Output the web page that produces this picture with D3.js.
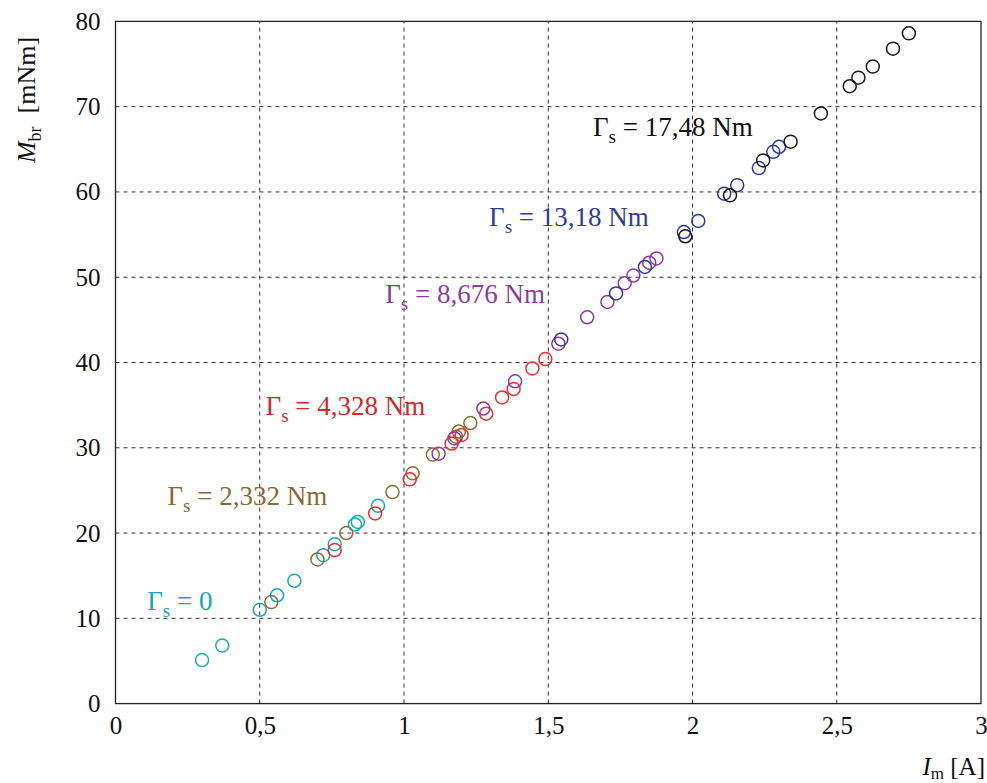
<!DOCTYPE html>
<html>
<head>
<meta charset="utf-8">
<script src="https://cdn.jsdelivr.net/npm/d3@7"></script>
<style>
  body { margin: 0; background: #fff; }
  text { font-family: "Liberation Serif", "Times New Roman", serif; }
</style>
</head>
<body>
<div id="chart"></div>
<script>
// measured points, one pair of arrays per torque setting
var x_0 = [0.30, 0.37, 0.50, 0.56, 0.62, 0.72, 0.76, 0.83, 0.84, 0.91]
var y_0 = [5.1, 6.8, 11.0, 12.7, 14.4, 17.4, 18.7, 21.0, 21.3, 23.2]

var x_2332 = [0.54, 0.70, 0.80, 0.96, 1.03, 1.10, 1.18, 1.19, 1.23]
var y_2332 = [11.9, 16.9, 20.0, 24.8, 27.0, 29.2, 31.3, 31.9, 32.9]

var x_4328 = [0.76, 0.90, 1.02, 1.165, 1.20, 1.285, 1.34, 1.38, 1.445, 1.49]
var y_4328 = [18.0, 22.3, 26.3, 30.5, 31.5, 34.0, 35.9, 36.9, 39.3, 40.4]

var x_8676 = [1.12, 1.175, 1.275, 1.385, 1.535, 1.635, 1.705, 1.765, 1.795, 1.85, 1.875]
var y_8676 = [29.3, 31.1, 34.6, 37.8, 42.2, 45.3, 47.1, 49.3, 50.2, 51.7, 52.2]

var x_1318 = [1.545, 1.735, 1.835, 1.97, 2.02, 2.11, 2.155, 2.23, 2.28, 2.30]
var y_1318 = [42.7, 48.1, 51.2, 55.3, 56.6, 59.8, 60.8, 62.8, 64.7, 65.3]

var x_1748 = [1.975, 2.13, 2.245, 2.34, 2.445, 2.545, 2.575, 2.625, 2.695, 2.75]
var y_1748 = [54.8, 59.6, 63.7, 65.9, 69.2, 72.4, 73.4, 74.7, 76.8, 78.6]

var series_names = ["0", "2,332 Nm", "4,328 Nm", "8,676 Nm", "13,18 Nm", "17,48 Nm"]
var series_x = [x_0, x_2332, x_4328, x_8676, x_1318, x_1748]
var series_y = [y_0, y_2332, y_4328, y_8676, y_1318, y_1748]
var marker_colors = ["#18a8b8", "#8c6c34", "#ee2b2b", "#8e3aa0", "#2d3a9c", "#1a1a1a"]
var label_colors = ["#1aa3b3", "#8a6a33", "#cc2b2b", "#8c3c9c", "#2f3d96", "#111111"]
// where each label sits, in data units
var label_pos = [[0.11, 11.0], [0.18, 23.3], [0.52, 33.8], [0.935, 47.0], [1.295, 56.0], [1.655, 66.6]]

var x_ticks = [0, 0.5, 1, 1.5, 2, 2.5, 3]
var y_ticks = [0, 10, 20, 30, 40, 50, 60, 70, 80]

var width = 987, height = 783
var margin = {top: 21.4, right: 6, bottom: 79.4, left: 115.5}

var svg = d3.select("#chart").append("svg")
    .attr("width", width)
    .attr("height", height)

var xScale = d3.scaleLinear().domain([0, 3]).range([margin.left, width - margin.right])
var yScale = d3.scaleLinear().domain([0, 80]).range([height - margin.bottom, margin.top])

var fmt = function(d) { return String(d).replace(".", ","); }

// grid
svg.append("g").selectAll("line")
  .data(x_ticks.slice(1, -1))
  .enter().append("line")
    .attr("x1", function(d) { return xScale(d); })
    .attr("x2", function(d) { return xScale(d); })
    .attr("y1", yScale(0))
    .attr("y2", yScale(80))
    .attr("stroke", "#333")
    .attr("stroke-width", 1)
    .attr("stroke-dasharray", "4,4")

svg.append("g").selectAll("line")
  .data(y_ticks.slice(1, -1))
  .enter().append("line")
    .attr("x1", xScale(0))
    .attr("x2", xScale(3))
    .attr("y1", function(d) { return yScale(d); })
    .attr("y2", function(d) { return yScale(d); })
    .attr("stroke", "#333")
    .attr("stroke-width", 1)
    .attr("stroke-dasharray", "4,4")

// axes
var xAxis = svg.append("g")
    .attr("transform", "translate(0," + yScale(0) + ")")
    .call(d3.axisBottom(xScale).tickValues(x_ticks).tickSize(0).tickPadding(13).tickFormat(fmt))
var yAxis = svg.append("g")
    .attr("transform", "translate(" + xScale(0) + ",0)")
    .call(d3.axisLeft(yScale).tickValues(y_ticks).tickSize(0).tickPadding(15))

xAxis.select(".domain").remove()
yAxis.select(".domain").remove()
svg.selectAll(".tick text")
    .attr("font-family", "Liberation Serif")
    .attr("font-size", 25)
    .attr("fill", "#111")

// frame
svg.append("rect")
    .attr("x", xScale(0))
    .attr("y", yScale(80))
    .attr("width", xScale(3) - xScale(0))
    .attr("height", yScale(0) - yScale(80))
    .attr("fill", "none")
    .attr("stroke", "#222")
    .attr("stroke-width", 1.3)

// markers
series_x.forEach(function(xs, i) {
  var pts = xs.map(function(v, j) { return [v, series_y[i][j]]; })
  svg.append("g").selectAll("circle")
    .data(pts)
    .enter().append("circle")
      .attr("cx", function(d) { return xScale(d[0]); })
      .attr("cy", function(d) { return yScale(d[1]); })
      .attr("r", 6.5)
      .attr("fill", "none")
      .attr("stroke", marker_colors[i])
      .attr("stroke-width", 1.5)
})

// series labels
series_names.forEach(function(name, i) {
  var t = svg.append("text")
      .attr("x", xScale(label_pos[i][0]))
      .attr("y", yScale(label_pos[i][1]))
      .attr("font-size", 27)
      .attr("fill", label_colors[i])
  t.append("tspan").text("\u0393")
  t.append("tspan").attr("font-size", 19).attr("dy", 7).text("s")
  t.append("tspan").attr("dy", -7).text(" = " + name)
})

// axis titles
var yl = svg.append("text")
    .attr("transform", "translate(35,100) rotate(-90)")
    .attr("text-anchor", "middle")
    .attr("font-size", 26)
    .attr("fill", "#111")
yl.append("tspan").attr("font-style", "italic").text("M")
yl.append("tspan").attr("font-size", 18).attr("dy", 6).text("br")
yl.append("tspan").attr("dy", -6).text("\u00a0 [mNm]")

var xl = svg.append("text")
    .attr("x", 985)
    .attr("y", 775)
    .attr("text-anchor", "end")
    .attr("font-size", 25)
    .attr("fill", "#111")
xl.append("tspan").attr("font-style", "italic").text("I")
xl.append("tspan").attr("font-size", 17).attr("dy", 4).text("m")
xl.append("tspan").attr("dy", -4).text(" [A]")
</script>
</body>
</html>
